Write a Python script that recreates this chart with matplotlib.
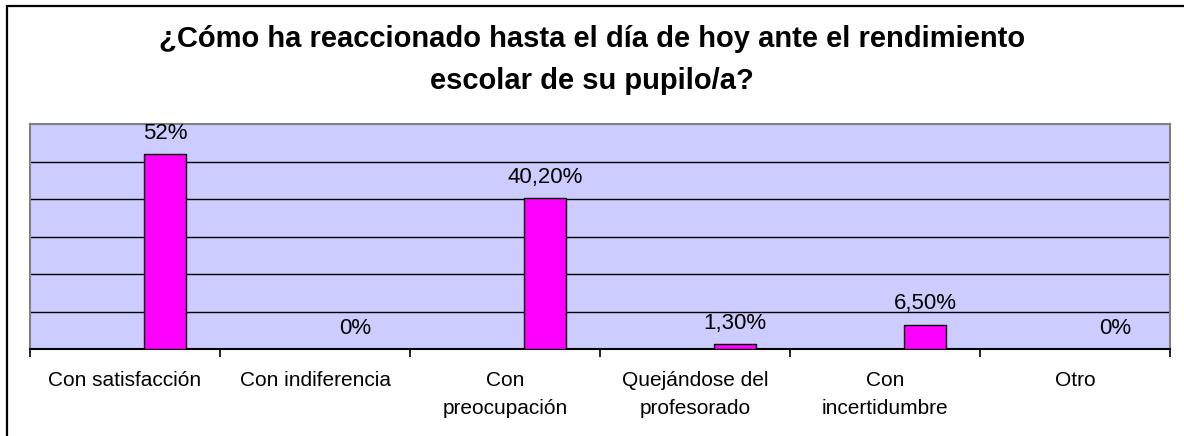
import matplotlib
matplotlib.use("Agg")
import matplotlib.pyplot as plt
import numpy as np
from matplotlib.patches import Rectangle

categories = ["Con satisfacción", "Con indiferencia", "Con\npreocupación",
              "Quejándose del\nprofesorado", "Con\nincertidumbre", "Otro"]
values = [0.52, 0.0, 0.402, 0.013, 0.065, 0.0]
value_labels = ["52%", "0%", "40,20%", "1,30%", "6,50%", "0%"]
title = "¿Cómo ha reaccionado hasta el día de hoy ante el rendimiento\nescolar de su pupilo/a?"

W, H = 1184, 436
fig = plt.figure(figsize=(W / 100, H / 100), dpi=100)
plt.rcParams['font.family'] = ['Liberation Sans', 'DejaVu Sans']

# outer border (left/top visible)
fig.patches.append(Rectangle((7 / W, -0.05), 1.2, (1 - 6 / H) + 0.05,
                             transform=fig.transFigure, fill=False,
                             edgecolor='black', linewidth=1.6, zorder=0))

left, right = 30 / W, 1170 / W
bottom, top = 1 - 349 / H, 1 - 124 / H
ax = fig.add_axes([left, bottom, right - left, top - bottom])
ax.set_facecolor('#CCCCFF')

x = np.arange(len(categories))
offset = 0.21
ax.bar(x + offset, values, width=0.22, color='#FF00FF', edgecolor='black',
       linewidth=1.0, zorder=3)
for xi, v, lab in zip(x, values, value_labels):
    ax.annotate(lab, (xi + offset, v), xytext=(0, 15), textcoords='offset points',
                ha='center', va='center', fontsize=16, color='black', zorder=4)

ax.set_xlim(-0.5, len(categories) - 0.5)
ax.set_ylim(0, 0.6)
ax.set_yticks(np.arange(0.1, 0.6, 0.1))
ax.yaxis.grid(True, color='black', linewidth=1.0)
ax.set_axisbelow(True)
ax.tick_params(axis='y', left=False, labelleft=False)

ax.set_xticks(x)
ax.set_xticklabels(categories, fontsize=15, linespacing=1.6)
ax.set_xticks(np.arange(-0.5, len(categories), 1.0), minor=True)
ax.tick_params(axis='x', which='major', length=0, pad=16)
ax.tick_params(axis='x', which='minor', length=6, width=1.2, direction='out', color='black')

for s in ['left', 'right', 'top']:
    ax.spines[s].set_color('#808080')
    ax.spines[s].set_linewidth(1.5)
ax.spines['bottom'].set_color('black')
ax.spines['bottom'].set_linewidth(1.5)

fig.text(0.5, 1 - 60 / H, title, ha='center', va='center', fontsize=21,
         fontweight='bold', linespacing=1.68)

fig.savefig("out.png", dpi=100)
